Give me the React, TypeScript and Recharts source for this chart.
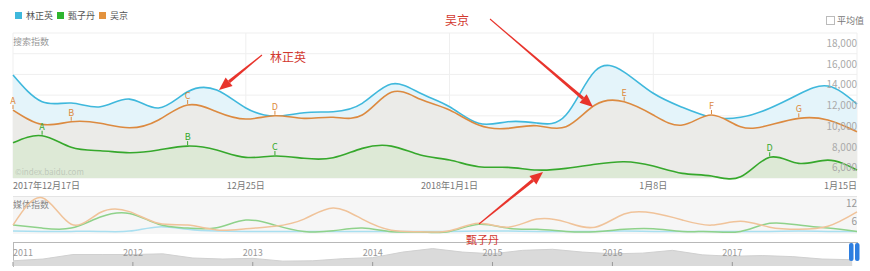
import { AreaChart, Area, LineChart, Line, XAxis, YAxis, CartesianGrid, LabelList } from 'recharts'

const days = [
  '12/17', '12/18', '12/19', '12/20', '12/21', '12/22', '12/23', '12/24', '12/25', '12/26',
  '12/27', '12/28', '12/29', '12/30', '12/31', '1/1', '1/2', '1/3', '1/4', '1/5',
  '1/6', '1/7', '1/8', '1/9', '1/10', '1/11', '1/12', '1/13', '1/14', '1/15',
]

// search index
const linZhengying = [13940, 11360, 11240, 10880, 11620, 10760, 12330, 12490, 10760, 9980, 10300, 10400, 11210, 13070, 12180, 10880, 9280, 9430, 9310, 10080, 14330, 14230, 12180, 10820, 9860, 9860, 10730, 12080, 12880, 11140]
const zhenZidan = [7400, 8080, 6960, 6630, 6440, 6700, 7080, 6700, 5990, 6120, 5900, 5950, 6860, 7080, 6220, 5730, 5090, 5030, 4770, 4930, 5320, 5570, 5150, 4450, 4190, 4120, 6000, 5410, 5730, 4770]
const wuJing = [10560, 9180, 9430, 9280, 8850, 9600, 11050, 10400, 9690, 10010, 9760, 9860, 10080, 12270, 11600, 10560, 9110, 8790, 9050, 8950, 11050, 11360, 10080, 9110, 10080, 8950, 9110, 9760, 9600, 8470]

// media index
const linMedia = [0.3, 0.2, 0.2, 0.2, 0.3, 1.7, 0.9, 0.3, 0.2, 0.2, 0.2, 0.2, 0.2, 0.2, 0.2, 0.2, 0.3, 0.3, 0.2, 0.2, 0.2, 0.3, 0.2, 0.2, 0.2, 0.2, 0.2, 0.3, 0.2, 0.2]
const zhenMedia = [2.3, 1.3, 1.3, 5, 6.2, 2.6, 1.3, 1.4, 4, 2.3, 0.2, 0.4, 1.3, 0.1, 0, 0.2, 2.6, 1.3, 0.9, 0.2, 0.1, 0.9, 1.1, 0.2, 0.1, 0.2, 2.9, 2.3, 1.3, 0.2]
const wuMedia = [2.3, 11.4, 2.6, 6.5, 6.8, 2.9, 2.3, 0.7, 1.1, 1.9, 4.3, 8, 4.3, 0.6, 0.1, 0.4, 2.9, 1.6, 4.3, 3.3, 1.6, 6, 6.3, 4, 2.3, 3.6, 1.6, 0.9, 1.9, 6.7]

const wuMarkers: [number, string][] = [[0, 'A'], [2, 'B'], [6, 'C'], [9, 'D'], [21, 'E'], [24, 'F'], [27, 'G']]
const zhenMarkers: [number, string][] = [[1, 'A'], [6, 'B'], [9, 'C'], [26, 'D']]

const xTickDays = ['12/17', '12/25', '1/1', '1/8', '1/15']
const xTickLabels = ['2017年12月17日', '12月25日', '2018年1月1日', '1月8日', '1月15日']
const yTicks = [4000, 6000, 8000, 10000, 12000, 14000, 16000, 18000]
const mediaTicks = [0, 6, 12]

// overview strip, quarterly
const historyTime = [
  2011, 2011.25, 2011.5, 2011.75, 2012, 2012.25, 2012.5, 2012.75, 2013, 2013.25,
  2013.5, 2013.75, 2014, 2014.25, 2014.5, 2014.75, 2015, 2015.25, 2015.5, 2015.75,
  2016, 2016.25, 2016.5, 2016.75, 2017, 2017.25, 2017.5, 2017.75, 2018,
]
const historyIndex = [15, 20, 33, 33, 33, 35, 23, 20, 22, 14, 15, 21, 24, 40, 50, 40, 35, 45, 48, 40, 35, 37, 45, 32, 28, 30, 27, 20, 18]
const yearTicks = [2011, 2012, 2013, 2014, 2015, 2016, 2017]

const CYAN = '#3fb8dc'
const GREEN = '#36a82c'
const ORANGE = '#dc8a40'
const FONT = '"Noto Sans CJK SC", "Noto Sans", sans-serif'

const mainData = days.map((day, i) => ({
  day,
  lin: linZhengying[i],
  zhen: zhenZidan[i],
  wu: wuJing[i],
  zhenMark: zhenMarkers.find((m) => m[0] === i)?.[1] ?? '',
  wuMark: wuMarkers.find((m) => m[0] === i)?.[1] ?? '',
}))
const mediaData = days.map((day, i) => ({ day, lin: linMedia[i], zhen: zhenMedia[i], wu: wuMedia[i] }))
const historyData = historyTime.map((t, i) => ({ t, v: historyIndex[i] }))

const marker = (color: string) => (props: any) => {
  const { x, y, value } = props
  if (!value) return null
  return (
    <g>
      <line x1={x} x2={x} y1={y - 1} y2={y - 5} stroke={color} strokeWidth={1} />
      <text x={x} y={y - 6} textAnchor="middle" fontSize={9} fill={color} fontFamily={FONT}>{value}</text>
    </g>
  )
}

function DateTick({ x, payload }: any) {
  const i = xTickDays.indexOf(payload.value)
  const anchor = i === 0 ? 'start' : i === xTickDays.length - 1 ? 'end' : 'middle'
  return <text x={x} y={189} textAnchor={anchor} fontSize={9} fill="#777" fontFamily={FONT}>{xTickLabels[i]}</text>
}

function ValueTick({ y, payload }: any) {
  if (payload.value === 4000) return null
  return <text x={857} y={y + 14} textAnchor="end" fontSize={10} fill="#aaa" fontFamily={FONT}>{payload.value.toLocaleString('en-US')}</text>
}

function MediaTick({ y, payload }: any) {
  if (payload.value === 0) return null
  return <text x={857} y={y + 11} textAnchor="end" fontSize={10} fill="#999" fontFamily={FONT}>{payload.value}</text>
}

function YearTick({ x, payload }: any) {
  return (
    <g>
      <line x1={x} x2={x} y1={20} y2={24} stroke="#999" />
      <text x={x} y={14} textAnchor={payload.value === 2011 ? 'start' : 'middle'} fontSize={9} fill="#999" fontFamily={FONT}>{payload.value}</text>
    </g>
  )
}

function Arrow({ x1, y1, x2, y2 }: { x1: number; y1: number; y2: number; x2: number }) {
  const dx = x2 - x1
  const dy = y2 - y1
  const len = Math.hypot(dx, dy)
  const ux = dx / len
  const uy = dy / len
  const nx = -uy
  const ny = ux
  const head = 13
  const bx = x2 - ux * head
  const by = y2 - uy * head
  const shaft = [
    [x1 + nx * 0.5, y1 + ny * 0.5], [bx + nx * 1.6, by + ny * 1.6],
    [bx - nx * 1.6, by - ny * 1.6], [x1 - nx * 0.5, y1 - ny * 0.5],
  ]
  const tip = [[x2, y2], [bx + nx * 5.5, by + ny * 5.5], [bx - nx * 5.5, by - ny * 5.5]]
  return (
    <g fill="#e8342c">
      <polygon points={shaft.map((p) => p.join(',')).join(' ')} />
      <polygon points={tip.map((p) => p.join(',')).join(' ')} />
    </g>
  )
}

const legendItems = [
  { name: '林正英', color: CYAN, left: 15 },
  { name: '甄子丹', color: '#2fb52f', left: 57 },
  { name: '吴京', color: '#e3923d', left: 99 },
]

export default function App() {
  return (
    <div style={{ position: 'absolute', left: 0, top: 0, width: 870, height: 271, background: '#fff', overflow: 'hidden', fontFamily: FONT }}>
      {legendItems.map((l) => (
        <div key={l.name} style={{ position: 'absolute', left: l.left, top: 9, display: 'flex', alignItems: 'center', fontSize: 9, color: '#555' }}>
          <span style={{ width: 7, height: 7, background: l.color, marginRight: 4 }} />
          {l.name}
        </div>
      ))}
      <div style={{ position: 'absolute', left: 826, top: 14, display: 'flex', alignItems: 'center', fontSize: 9, color: '#777' }}>
        <span style={{ width: 7, height: 7, border: '1px solid #bbb', marginRight: 2 }} />
        平均值
      </div>
      <div style={{ position: 'absolute', left: 13, top: 35, fontSize: 9, color: '#999' }}>搜索指数</div>

      <div style={{ position: 'absolute', left: 0, top: 0 }}>
        <AreaChart width={870} height={196} data={mainData} margin={{ top: 33, right: 12, bottom: 0, left: 13 }}>
          <CartesianGrid stroke="#efefef" />
          <XAxis dataKey="day" ticks={xTickDays} interval={0} height={18} axisLine={false} tickLine={false} tick={<DateTick />} />
          <YAxis orientation="right" width={1} domain={[4000, 18000]} ticks={yTicks} interval={0} axisLine={false} tickLine={false} tick={<ValueTick />} />
          <Area type="natural" dataKey="lin" stroke={CYAN} strokeWidth={1.6} fill="#e4f4fa" fillOpacity={1} dot={false} activeDot={false} isAnimationActive={false} />
          <Area type="natural" dataKey="wu" stroke={ORANGE} strokeWidth={1.6} fill="#ebebe8" fillOpacity={1} dot={false} activeDot={false} isAnimationActive={false}>
            <LabelList dataKey="wuMark" content={marker(ORANGE)} />
          </Area>
          <Area type="natural" dataKey="zhen" stroke={GREEN} strokeWidth={1.6} fill="#dde9d6" fillOpacity={1} dot={false} activeDot={false} isAnimationActive={false}>
            <LabelList dataKey="zhenMark" content={marker(GREEN)} />
          </Area>
        </AreaChart>
      </div>

      <div style={{ position: 'absolute', left: 13, top: 196, width: 844, height: 37, background: '#f6f6f6', borderTop: '1px solid #e4e4e4' }} />
      <div style={{ position: 'absolute', left: 13, top: 198, fontSize: 9, color: '#888' }}>媒体指数</div>
      <div style={{ position: 'absolute', left: 0, top: 190 }}>
        <LineChart width={870} height={50} data={mediaData} margin={{ top: 6, right: 12, bottom: 8, left: 13 }}>
          <XAxis dataKey="day" hide />
          <YAxis orientation="right" width={1} domain={[0, 12]} ticks={mediaTicks} interval={0} axisLine={false} tickLine={false} tick={<MediaTick />} />
          <Line type="natural" dataKey="lin" stroke="#a9dff0" strokeWidth={1.5} dot={false} activeDot={false} isAnimationActive={false} />
          <Line type="natural" dataKey="zhen" stroke="#8fd28a" strokeWidth={1.5} dot={false} activeDot={false} isAnimationActive={false} />
          <Line type="natural" dataKey="wu" stroke="#f0c39a" strokeWidth={1.5} dot={false} activeDot={false} isAnimationActive={false} />
        </LineChart>
      </div>

      <div style={{ position: 'absolute', left: 13, top: 242, width: 844, height: 24, borderTop: '1px solid #b8b8b8', borderLeft: '1px solid #b8b8b8' }} />
      <div style={{ position: 'absolute', left: 0, top: 242 }}>
        <AreaChart width={870} height={25} data={historyData} margin={{ top: 0, right: 13, bottom: 0, left: 13 }}>
          <XAxis dataKey="t" type="number" domain={[2011, 2018.04]} ticks={yearTicks} interval={0} height={1} axisLine={false} tickLine={false} tick={<YearTick />} />
          <YAxis hide domain={[0, 69]} />
          <Area type="linear" dataKey="v" stroke="#d0d0d0" fill="#dadada" fillOpacity={1} dot={false} activeDot={false} isAnimationActive={false} />
        </AreaChart>
      </div>

      <svg width={870} height={271} style={{ position: 'absolute', left: 0, top: 0, pointerEvents: 'none' }}>
        <text x={15} y={175} fontSize={8} fill="#bfc9bb" fontFamily={FONT}>©index.baidu.com</text>
        <rect x={849} y={243} width={4.5} height={18} rx={2} fill="#2d7ee0" />
        <rect x={855} y={243} width={4.5} height={18} rx={2} fill="#2d7ee0" />
        <Arrow x1={262} y1={55} x2={219} y2={90} />
        <Arrow x1={490} y1={19} x2={593} y2={107} />
        <Arrow x1={479} y1={224} x2={543} y2={172} />
        <text x={270} y={62} fontSize={12} fill="#d2382f" fontFamily={FONT}>林正英</text>
        <text x={445} y={25} fontSize={12} fill="#d2382f" fontFamily={FONT}>吴京</text>
        <text x={466} y={244} fontSize={11} fill="#d2382f" fontFamily={FONT}>甄子丹</text>
      </svg>
    </div>
  )
}
